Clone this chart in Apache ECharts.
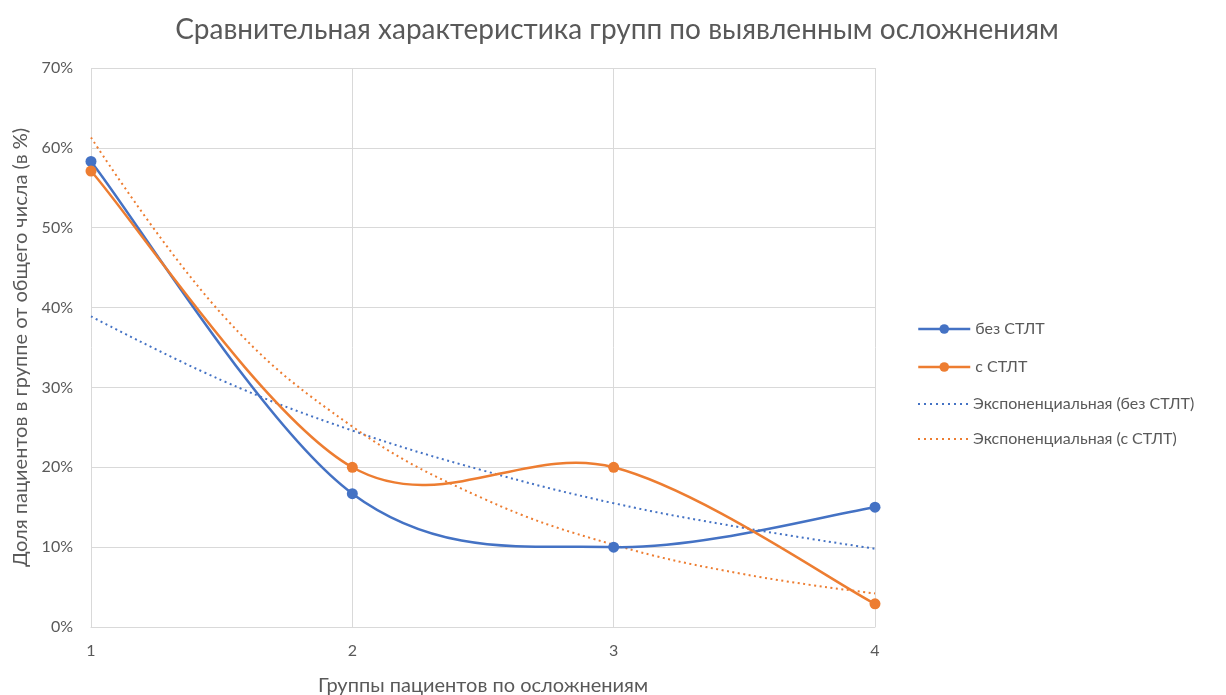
<!DOCTYPE html>
<html>
<head>
<meta charset="utf-8">
<script src="https://cdn.jsdelivr.net/npm/echarts@6/dist/echarts.min.js"></script>
<style>
html,body{margin:0;padding:0;background:#fff;}
#chart{width:1226px;height:695px;}
</style>
</head>
<body>
<div id="chart"></div>
<script>
// Complication groups (x positions on the axis)
const groups = [1, 2, 3, 4];
// Share of patients in each group, percent
const withoutSTLT = [58.3, 16.7, 10.0, 15.0];
const withSTLT = [57.1, 20.0, 20.0, 2.9];
// Exponential trend lines, sampled along the group axis
const trendX = [1, 1.5, 2, 2.5, 3, 3.5, 4];
const trendWithout = [38.9, 30.9, 24.6, 19.6, 15.5, 12.4, 9.8];
const trendWith = [61.3, 39.2, 25.1, 16.1, 10.3, 6.6, 4.2];

const names = ['без СТЛТ', 'с СТЛТ', 'Экспоненциальная (без СТЛТ)', 'Экспоненциальная (с СТЛТ)'];
const blue = '#4472C4', orange = '#ED7D31';
const textColor = '#595959';
const font = 'Lato, Open Sans, sans-serif';
const pair = (xs, ys) => xs.map((x, i) => [x, ys[i]]);

// Smoothed curve: each segment is a cubic Bezier whose control points
// follow the neighbouring points (cardinal spline, tension 1/6).
function smoothSegments(name, ys, color) {
  return {
    name: name + ' ', type: 'custom', z: 3, silent: true,
    data: pair(groups, ys),
    encode: {x: 0, y: 1},
    renderItem: function (params, api) {
      const i = params.dataIndex, n = groups.length;
      if (i >= n - 1) return null;
      const pt = j => {
        const k = Math.max(0, Math.min(n - 1, j));
        return api.coord([groups[k], ys[k]]);
      };
      const p0 = pt(i - 1), p1 = pt(i), p2 = pt(i + 1), p3 = pt(i + 2);
      return {
        type: 'bezierCurve',
        shape: {
          x1: p1[0], y1: p1[1], x2: p2[0], y2: p2[1],
          cpx1: p1[0] + (p2[0] - p0[0]) / 6, cpy1: p1[1] + (p2[1] - p0[1]) / 6,
          cpx2: p2[0] - (p3[0] - p1[0]) / 6, cpy2: p2[1] - (p3[1] - p1[1]) / 6
        },
        style: {stroke: color, lineWidth: 2.5, fill: null, lineCap: 'round'}
      };
    }
  };
}

// Dotted legend icon (row of small squares)
let dots = '';
for (let k = 0; k < 9; k++) dots += 'M' + (k * 6) + ',0h2v2h-2z';
const dotIcon = 'path://' + dots;

const chart = echarts.init(document.getElementById('chart'), null, {renderer: 'canvas'});
chart.setOption({
  backgroundColor: '#fff',
  animation: false,
  title: {
    text: 'Сравнительная характеристика групп по выявленным осложнениям',
    left: 612, textAlign: 'center', top: 11,
    textStyle: {fontFamily: font, fontSize: 28, fontWeight: 'normal', color: textColor}
  },
  grid: {left: 91, right: 351, top: 68, bottom: 68, outerBoundsMode: 'none', containLabel: false},
  legend: [{
    orient: 'vertical', left: 912, top: 316,
    itemWidth: 52, itemHeight: 12, itemGap: 22,
    textStyle: {fontFamily: font, fontSize: 16, color: textColor},
    data: [
      {name: names[0], lineStyle: {opacity: 1, width: 2.5, color: blue}},
      {name: names[1], lineStyle: {opacity: 1, width: 2.5, color: orange}}
    ]
  }, {
    orient: 'vertical', left: 913, top: 391,
    itemWidth: 50, itemHeight: 2, itemGap: 19,
    textStyle: {fontFamily: font, fontSize: 16, color: textColor},
    data: [
      {name: names[2], icon: dotIcon},
      {name: names[3], icon: dotIcon}
    ]
  }],
  xAxis: {
    type: 'value', min: 1, max: 4, interval: 1,
    name: 'Группы пациентов по осложнениям', nameLocation: 'middle', nameGap: 49,
    nameTextStyle: {fontFamily: font, fontSize: 20, color: textColor},
    axisLine: {show: true, lineStyle: {color: '#D9D9D9'}},
    axisTick: {show: false},
    axisLabel: {fontFamily: font, fontSize: 16, color: textColor, margin: 16},
    splitLine: {show: true, lineStyle: {color: '#D9D9D9'}}
  },
  yAxis: {
    type: 'value', min: 0, max: 70, interval: 10,
    name: 'Доля пациентов в группе от общего числа (в %)', nameLocation: 'middle', nameGap: 59,
    nameTextStyle: {fontFamily: font, fontSize: 20, color: textColor},
    axisLine: {show: false}, axisTick: {show: false},
    axisLabel: {fontFamily: font, fontSize: 16, color: textColor, margin: 18, formatter: '{value}%'},
    splitLine: {lineStyle: {color: '#D9D9D9'}}
  },
  series: [
    smoothSegments(names[0], withoutSTLT, blue),
    smoothSegments(names[1], withSTLT, orange),
    {name: names[0], type: 'line', data: pair(groups, withoutSTLT),
     symbol: 'circle', symbolSize: 11, color: blue, lineStyle: {opacity: 0}, z: 5},
    {name: names[1], type: 'line', data: pair(groups, withSTLT),
     symbol: 'circle', symbolSize: 11, color: orange, lineStyle: {opacity: 0}, z: 6},
    {name: names[2], type: 'line', data: pair(trendX, trendWithout), smooth: 0.4,
     symbol: 'none', color: blue, lineStyle: {width: 2, type: [2, 3.5], color: blue}, z: 2},
    {name: names[3], type: 'line', data: pair(trendX, trendWith), smooth: 0.4,
     symbol: 'none', color: orange, lineStyle: {width: 2, type: [2, 3.5], color: orange}, z: 2}
  ]
});
</script>
</body>
</html>
